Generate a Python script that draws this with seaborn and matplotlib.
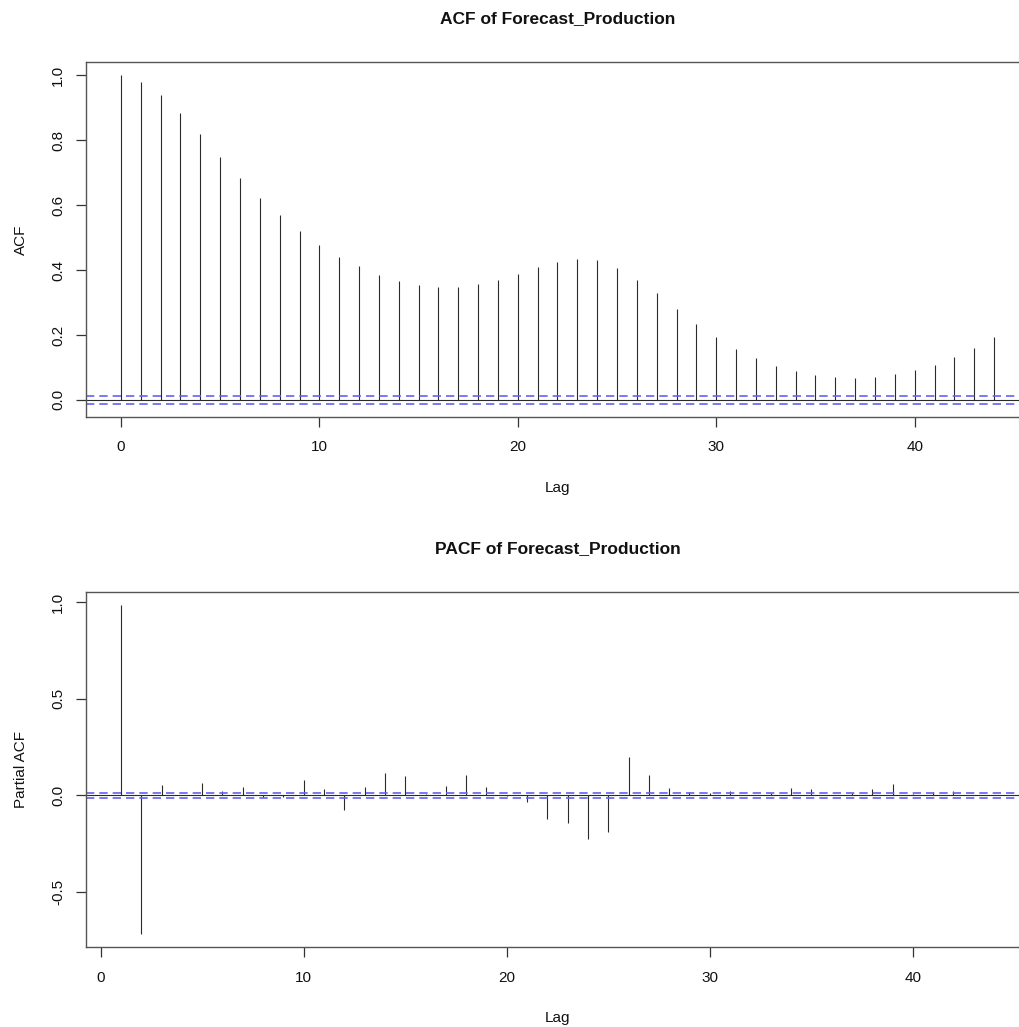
import numpy as np
import matplotlib
matplotlib.use("Agg")
import matplotlib.pyplot as plt
import seaborn as sns

# ---------------- data ----------------
acf_lags = list(range(0, 45))
acf_values = [1.000, 0.981, 0.940, 0.884, 0.818, 0.750, 0.685, 0.623, 0.569, 0.520,
              0.477, 0.441, 0.412, 0.386, 0.367, 0.354, 0.348, 0.348, 0.356, 0.370,
              0.389, 0.409, 0.425, 0.433, 0.430, 0.408, 0.371, 0.328, 0.281, 0.234,
              0.194, 0.158, 0.128, 0.106, 0.088, 0.078, 0.071, 0.069, 0.071, 0.079,
              0.091, 0.109, 0.132, 0.161, 0.193]

pacf_lags = list(range(1, 45))
pacf_values = [0.985, -0.716, 0.053, 0.003, 0.065, 0.024, 0.045, -0.010, -0.008, 0.077,
               0.031, -0.074, 0.043, 0.115, 0.101, 0.005, 0.046, 0.107, 0.041, -0.005,
               -0.036, -0.120, -0.144, -0.228, -0.191, 0.198, 0.103, 0.040, 0.017, 0.014,
               0.022, 0.003, 0.014, 0.038, 0.031, 0.003, 0.014, 0.034, 0.057, 0.005,
               0.019, 0.022, 0.003, 0.003]

conf_bound = 0.0113
x_ticks = [0, 10, 20, 30, 40]
acf_yticks = [0.0, 0.2, 0.4, 0.6, 0.8, 1.0]
acf_yticklabels = ["0.0", "0.2", "0.4", "0.6", "0.8", "1.0"]
pacf_yticks = [-0.5, 0.0, 0.5, 1.0]
pacf_yticklabels = ["-0.5", "0.0", "0.5", "1.0"]

# ---------------- style ----------------
sns.set_theme(style="ticks")
plt.rcParams["font.family"] = ["Liberation Sans", "DejaVu Sans"]
plt.rcParams["axes.unicode_minus"] = False

W, H = 1020, 1027
fig = plt.figure(figsize=(W / 100, H / 100), dpi=100)

left_px, right_px = 86, 1029


def rect(top_px, bottom_px):
    return [left_px / W, 1 - bottom_px / H, (right_px - left_px) / W, (bottom_px - top_px) / H]


def r_range(lo, hi):
    pad = (hi - lo) * 0.04
    return lo - pad, hi + pad


def draw_panel(ax, lags, vals, yticks, yticklabels, title, ylabel):
    sns.despine(ax=ax, top=False, right=False)
    ax.vlines(lags, 0, vals, color="#2a2a2a", linewidth=0.8)
    ax.axhline(0, color="#2a2a2a", linewidth=0.8)
    for b in (conf_bound, -conf_bound):
        ax.axhline(b, color="#6262f2", linewidth=1.2, linestyle=(0, (5, 3)))
    ax.set_xlim(*r_range(min(lags), max(lags)))
    ax.set_ylim(*r_range(min(min(vals), -conf_bound), max(max(vals), conf_bound)))
    ax.set_xticks(x_ticks)
    ax.set_xticklabels([str(t) for t in x_ticks])
    ax.set_yticks(yticks)
    ax.set_yticklabels(yticklabels, rotation=90, va="center")
    ax.tick_params(axis="both", direction="out", length=7, width=0.9,
                   color="#333333", labelsize=11, labelcolor="#111111")
    ax.tick_params(axis="x", pad=10)
    ax.tick_params(axis="y", pad=8)
    for s in ax.spines.values():
        s.set_color("#555555")
        s.set_linewidth(1.0)
    ax.set_title(title, fontsize=12.5, fontweight="bold", pad=28, color="#111111")
    ax.set_xlabel("Lag", fontsize=11, labelpad=19, color="#111111")
    ax.set_ylabel(ylabel, fontsize=11, labelpad=17, color="#111111")
    ax.grid(False)
    ax.set_facecolor("white")


ax1 = fig.add_axes(rect(62.3, 416.7))
draw_panel(ax1, acf_lags, acf_values, acf_yticks, acf_yticklabels,
           "ACF of Forecast_Production", "ACF")

ax2 = fig.add_axes(rect(591.7, 947))
draw_panel(ax2, pacf_lags, pacf_values, pacf_yticks, pacf_yticklabels,
           "PACF of Forecast_Production", "Partial ACF")

fig.savefig("out.png", dpi=100, facecolor="white")
